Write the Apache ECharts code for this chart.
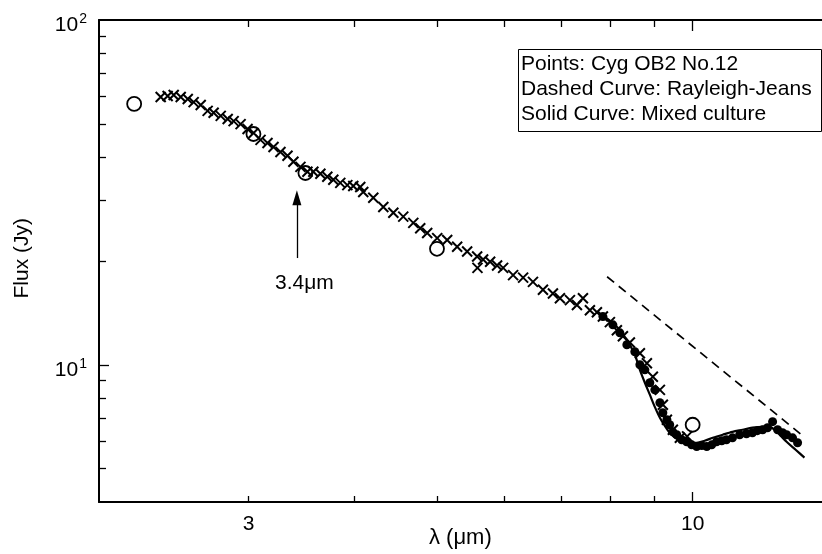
<!DOCTYPE html>
<html><head><meta charset="utf-8">
<script src="https://cdn.jsdelivr.net/npm/echarts@6/dist/echarts.min.js"></script>
<style>html,body{margin:0;padding:0;background:#fff}#c{width:822px;height:554px}</style>
</head><body><div id="c"></div>
<script>
// ---- data (λ in μm, flux in Jy) ----
const crosses = [
[2.364,59.8],[2.409,60.2],[2.449,60.6],[2.496,59.8],[2.544,59.0],[2.585,57.8],[2.635,56.7],[2.685,54.5],
[2.729,53.8],[2.782,52.7],[2.835,51.6],[2.881,50.9],[2.936,49.9],[2.992,48.3],[3.041,47.0],[3.099,44.9],
[3.158,44.0],[3.210,42.8],[3.271,41.4],[3.334,40.4],[3.388,38.8],[3.453,37.5],[3.519,36.3],[3.576,36.3],
[3.645,35.8],[3.714,35.1],[3.775,34.4],[3.847,33.7],[3.921,33.2],[3.985,33.0],[4.061,32.8],[4.094,31.7],
[4.207,30.5],[4.323,28.7],[4.442,27.6],[4.563,26.9],[4.689,25.8],[4.778,24.9],[4.869,24.1],[5.003,23.3],
[5.140,23.0],[5.281,22.0],[5.426,21.3],[5.575,20.6],[5.58,19.1],[5.666,20.2],[5.775,19.9],[5.885,19.4],
[5.982,19.1],[6.146,18.2],[6.315,17.9],[6.486,17.4],[6.664,16.5],[6.847,16.1],[6.978,15.6],[7.170,15.4],
[7.307,14.9],[7.427,15.6],[7.569,14.4],[7.714,14.2],[7.840,13.8],[7.990,13.3],[8.143,12.6],[8.277,12.1],
[8.435,11.6],[8.667,10.8],[8.833,10.1],[8.977,9.23],[9.150,8.46],[9.224,7.66],[9.325,6.93],[9.477,6.48],
[9.659,6.14],[9.85,6.2]
];
const circles = [[2.20,57.1],[3.04,46.7],[3.50,36.0],[5.00,21.7],[10.0,6.70]];
const dots = [
[7.840,13.8],[8.055,13.06],[8.209,12.38],[8.366,11.43],[8.549,10.91],[8.667,10.0],[8.785,9.67],[8.904,8.87],
[9.025,8.46],[9.150,7.76],[9.224,7.26],[9.325,6.93],[9.397,6.70],[9.477,6.39],[9.577,6.27],[9.707,6.06],
[9.839,5.98],[9.973,5.86],[10.11,5.79],[10.25,5.83],[10.39,5.79],[10.53,5.86],[10.67,5.98],[10.82,6.02],
[10.96,6.06],[11.14,6.14],[11.36,6.27],[11.57,6.31],[11.76,6.35],[11.92,6.44],[12.09,6.48],[12.25,6.57],
[12.42,6.84],[12.59,6.48],[12.76,6.35],[12.90,6.27],[13.11,6.14],[13.29,5.94]
];
const mixedCulture = [
[7.714,14.25],[8.099,13.06],[8.366,11.81],[8.549,10.69],[8.667,9.67],[8.785,8.87],[8.904,8.19],[9.025,7.55],
[9.150,7.02],[9.27,6.66],[9.397,6.35],[9.577,6.10],[9.839,5.94],[10.11,5.94],[10.33,6.02],[10.56,6.14],
[10.85,6.27],[11.14,6.39],[11.45,6.48],[11.76,6.57],[12.09,6.61],[12.29,6.61],[12.49,6.48],[12.90,5.98],
[13.22,5.67],[13.54,5.38]
];
const rayleighJeans = [[7.93,18.0],[13.54,6.17]];
const arrow34 = [[3.42,20.4],[3.42,30.5]];
const arrowLabel = [[3.49,17.3]];
const xLabelValues = [3,10];
const xMinorTicks = [3,4,5,6,7,8,9];
const xMajorTicks = [10];
const yLabelValues = [10,100];
const yMinorTicks = [5,6,7,8,9,20,30,40,50,60,70,80,90];
const yMajorTicks = [10];
const legendLines = ['Points: Cyg OB2 No.12','Dashed Curve: Rayleigh-Jeans','Solid Curve: Mixed culture'];

const FONT = "'Liberation Sans', Arial, Helvetica, sans-serif";
const X_MIN = 2, X_MAX = 14.2, Y_MIN = 4, Y_MAX = 100;
const L = Math.log10;

// Data axes (log) + tick-only helper axes (linear in log10 units, same extent)
function baseAxis(type, pos, min, max, opts) {
  return Object.assign({
    type: type, min: min, max: max, position: pos,
    splitLine: {show: false},
    axisLine: {show: false, lineStyle: {color: '#000', width: 2}},
    axisLabel: {show: false},
    axisTick: {show: false}
  }, opts);
}
function tickAxisX(pos, values, len) {
  return baseAxis('value', pos, L(X_MIN), L(X_MAX), {
    axisTick: {show: true, inside: true, length: len, customValues: values.map(L), lineStyle: {color: '#000', width: 1.3}}
  });
}
function tickAxisY(pos, values, len) {
  return baseAxis('value', pos, L(Y_MIN), L(Y_MAX), {
    axisTick: {show: true, inside: true, length: len, customValues: values.map(L), lineStyle: {color: '#000', width: 1.3}}
  });
}

const chart = echarts.init(document.getElementById('c'), null, {renderer: 'canvas'});
chart.setOption({
  animation: false,
  backgroundColor: '#fff',
  textStyle: {fontFamily: FONT, color: '#000'},
  grid: {left: 99, top: 20, right: 0, bottom: 52, containLabel: false},
  title: {
    text: legendLines.join('\n'),
    left: 518, top: 49,
    borderColor: '#000', borderWidth: 1,
    padding: [3, 10, 5, 3],
    textStyle: {fontFamily: FONT, fontSize: 21, lineHeight: 25, fontWeight: 'normal', color: '#000'}
  },
  xAxis: [
    baseAxis('log', 'bottom', X_MIN, X_MAX, {
      logBase: 10,
      axisLine: {show: true, lineStyle: {color: '#000', width: 2}},
      axisLabel: {show: true, customValues: xLabelValues, margin: 12, fontSize: 21, color: '#000', fontFamily: FONT,
        formatter: v => String(Math.round(v))}
    }),
    baseAxis('log', 'top', X_MIN, X_MAX, {
      logBase: 10,
      axisLine: {show: true, lineStyle: {color: '#000', width: 2}}
    }),
    tickAxisX('bottom', xMinorTicks, 6),
    tickAxisX('bottom', xMajorTicks, 10),
    tickAxisX('top', xMinorTicks, 7),
    tickAxisX('top', xMajorTicks, 11)
  ],
  yAxis: [
    baseAxis('log', 'left', Y_MIN, Y_MAX, {
      logBase: 10,
      axisLine: {show: true, lineStyle: {color: '#000', width: 2}},
      axisLabel: {show: true, customValues: yLabelValues, margin: 12, color: '#000', fontFamily: FONT,
        padding: [8, 0, 0, 0],
        formatter: v => '{b|10}{s|' + Math.round(Math.log10(v)) + '}',
        rich: {
          b: {fontSize: 21, fontFamily: FONT, color: '#000', lineHeight: 24, verticalAlign: 'bottom'},
          s: {fontSize: 14, fontFamily: FONT, color: '#000', lineHeight: 24, verticalAlign: 'top', padding: [0, 0, 0, 1]}
        }}
    }),
    tickAxisY('left', yMinorTicks, 7),
    tickAxisY('left', yMajorTicks, 10)
  ],
  graphic: [
    {type: 'text', left: 12, top: 218, rotation: Math.PI / 2, style: {text: 'Flux (Jy)', font: '21px ' + FONT, fill: '#000'}},
    {type: 'text', left: 429, top: 527, style: {text: 'λ (μm)', font: '22px ' + FONT, fill: '#000'}}
  ],
  series: [
    {
      name: 'crosses', type: 'scatter', data: crosses, symbol: 'path://M0 0L10 10M10 0L0 10', symbolSize: 10,
      itemStyle: {color: 'none', borderColor: '#000', borderWidth: 2, opacity: 1}, z: 3
    },
    {
      name: 'dots', type: 'scatter', data: dots, symbol: 'circle', symbolSize: 9,
      itemStyle: {color: '#000', opacity: 1}, z: 3
    },
    {
      name: 'circles', type: 'scatter', data: circles, symbol: 'circle', symbolSize: 14,
      itemStyle: {color: 'rgba(0,0,0,0)', borderColor: '#000', borderWidth: 1.8, opacity: 1}, z: 4
    },
    {
      name: 'Mixed culture', type: 'line', data: mixedCulture, symbol: 'none', smooth: 0.3,
      lineStyle: {color: '#000', width: 2.2}, z: 5
    },
    {
      name: 'Rayleigh-Jeans', type: 'line', data: rayleighJeans, symbol: 'none',
      lineStyle: {color: '#000', width: 1.7, type: [9, 6]}, z: 5
    },
    {
      name: 'label', type: 'scatter', data: arrowLabel, symbol: 'circle', symbolSize: 1,
      itemStyle: {color: 'rgba(0,0,0,0)', opacity: 1},
      label: {show: true, position: 'inside', formatter: '3.4μm', fontSize: 21, fontFamily: FONT, color: '#000', opacity: 1},
      markLine: {
        silent: true, symbol: ['none', 'triangle'], symbolSize: [9, 15],
        lineStyle: {color: '#000', width: 1.3, type: 'solid', opacity: 1},
        label: {show: false},
        data: [[{coord: arrow34[0]}, {coord: arrow34[1]}]]
      }, z: 6
    }
  ]
});
</script></body></html>
